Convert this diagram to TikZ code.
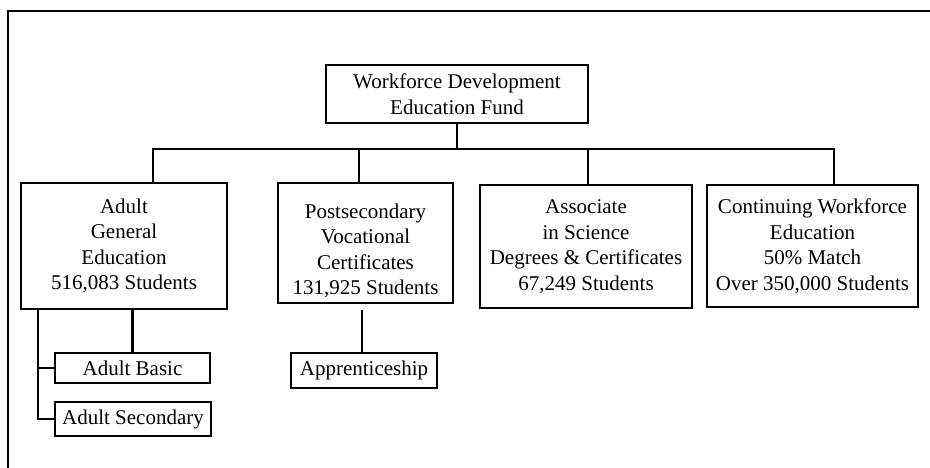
\documentclass[tikz,border=0pt]{standalone}
\usepackage{fontspec}
\setmainfont{Liberation Serif}
\begin{document}
\begin{tikzpicture}[x=1pt,y=-1pt,
  box/.style={draw, line width=2.9pt, rectangle, align=center, inner sep=1pt,
    font=\fontsize{21}{25.5}\selectfont},
  txt/.style={align=center, inner sep=0pt, font=\fontsize{21}{25.5}\selectfont},
  line/.style={line width=2.9pt}]
\useasboundingbox (0,0) rectangle (930,468);
% frame
\coordinate (fTL) at (8,11);
\coordinate (fTR) at (931,11);
\coordinate (fBL) at (8,469);
\draw[line] (fTR) -- (fTL) -- (fBL);
% top node
\node[box, minimum width=262pt, minimum height=58pt] (top) at (457,94)
  {Workforce Development\\Education Fund};
% level 2
\node[box, minimum width=206pt, minimum height=126pt] (b1) at (124,246)
  {Adult\\General\\Education\\516,083 Students};
\node[box, minimum width=175pt, minimum height=120pt] (b2) at (365.5,243) {};
\node[txt] (b2t) at ([yshift=-8pt]b2.center)
  {Postsecondary\\Vocational\\Certificates\\131,925 Students};
\node[box, minimum width=212pt, minimum height=123pt] (b3) at (586,246.5)
  {Associate\\in Science\\Degrees \& Certificates\\67,249 Students};
\node[box, minimum width=211pt, minimum height=122pt] (b4) at (812.5,246)
  {Continuing Workforce\\Education\\50\% Match\\Over 350,000 Students};
% level 3
\node[box, minimum width=155pt, minimum height=30pt] (ab) at (132.5,368)
  {Adult Basic};
\node[box, minimum width=156pt, minimum height=34pt] (as) at (133,419)
  {Adult Secondary};
\node[box, minimum width=146pt, minimum height=35pt] (ap) at (364,370.5)
  {Apprenticeship};
% bus
\coordinate (busL) at (153,149);
\coordinate (busR) at (834,149);
\coordinate (d2) at (359,149);
\coordinate (d3) at (588,149);
\draw[line] (top.south) -- (top.south |- busL);
\draw[line] (busL |- b1.north) -- (busL) -- (busR) -- (busR |- b4.north);
\draw[line] (d2) -- (d2 |- b2.north);
\draw[line] (d3) -- (d3 |- b3.north);
% sub connectors
\coordinate (sL) at (38,309);
\draw[line] (b1.south -| ab.north) -- (ab.north);
\draw[line] (sL |- b1.south) |- (as.west);
\draw[line] (sL |- ab.west) -- (ab.west);
\coordinate (aps) at (362,310);
\draw[line] (aps) -- (aps |- ap.north);
\end{tikzpicture}
\end{document}
